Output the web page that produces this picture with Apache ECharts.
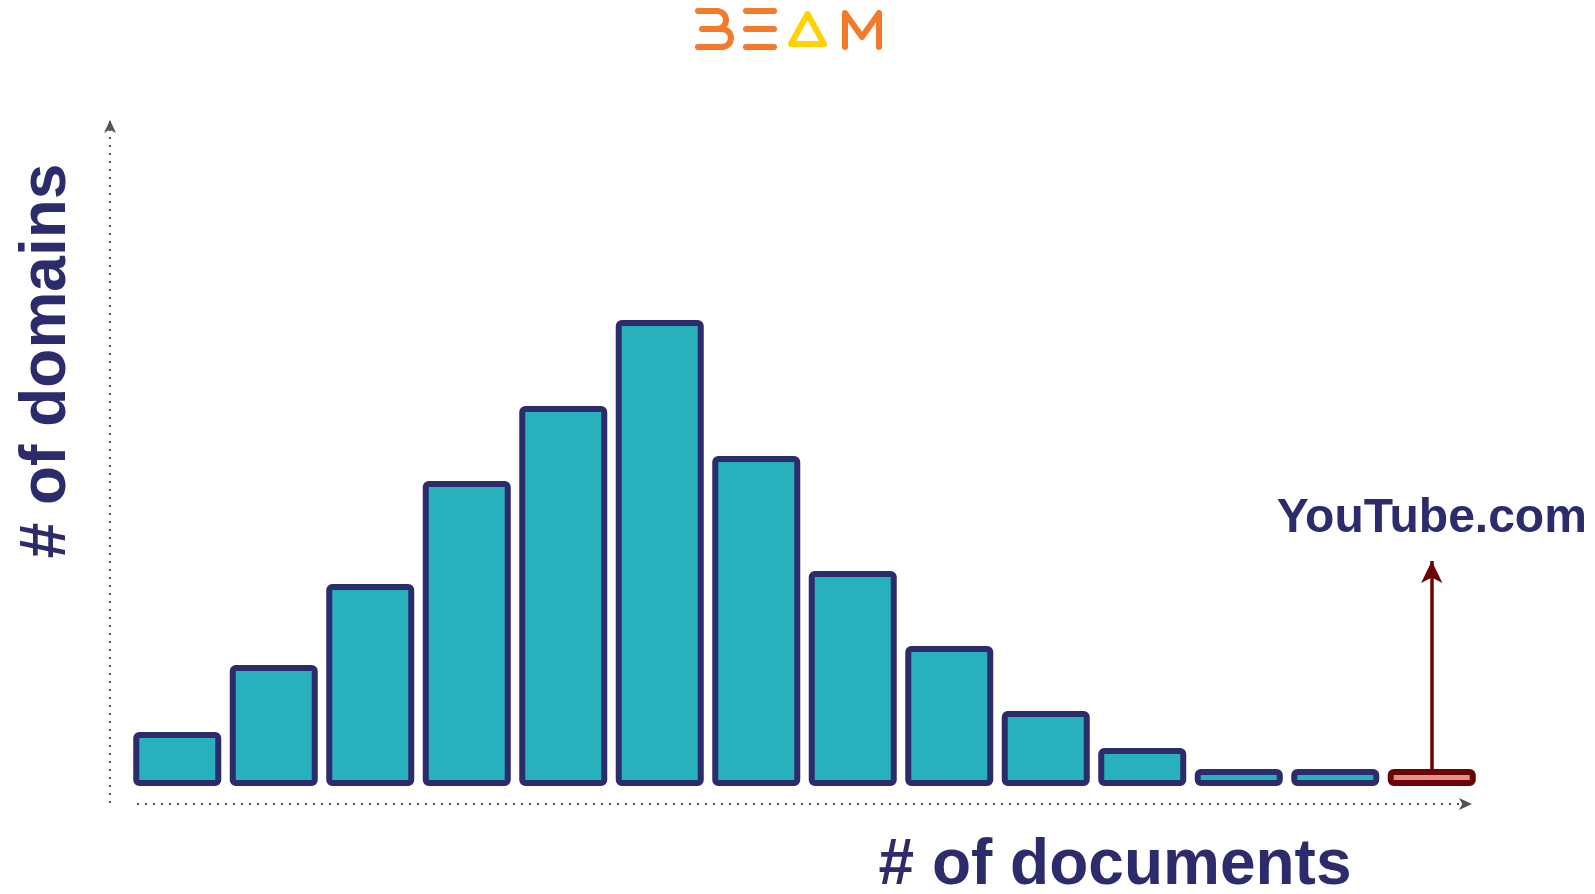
<!DOCTYPE html>
<html>
<head>
<meta charset="utf-8">
<title># of domains by # of documents</title>
<script src="https://cdn.jsdelivr.net/npm/echarts@6/dist/echarts.min.js"></script>
<style>
  html, body { margin: 0; padding: 0; background: #fff; }
  #chart { width: 1595px; height: 894px; }
</style>
</head>
<body>
<div id="chart"></div>
<script>
// histogram bins: # of documents per domain (no tick labels in the original)
const categories = ['1', '2', '3', '4', '5', '6', '7', '8', '9', '10', '11', '12', '13', 'YouTube.com'];
const domainCounts = [54, 121, 202, 305, 380, 466, 330, 215, 140, 75, 38, 17, 17, 17];
const highlightName = 'YouTube.com';
const arrowTopValue = 225;

const NAVY = '#2C2B6B';
const TEAL = '#26B1BD';
const DARK_RED = '#6B0404';
const ORANGE = '#F47A2B';
const YELLOW = '#FFD200';
const FONT = '"Liberation Sans", Arial, sans-serif';

const chart = echarts.init(document.getElementById('chart'));

// bars, last one (YouTube) gets its own colours
const barData = domainCounts.map((v, i) => {
  if (categories[i] !== highlightName) return v;
  return {
    value: v,
    itemStyle: { color: '#E88C8C', borderColor: DARK_RED }
  };
});

const dotted = { color: '#555', width: 2, type: [2, 6], cap: 'butt' };

// logo strokes (BEAM)
const logoStroke = (color) => ({ stroke: color, fill: null, lineWidth: 6, lineCap: 'round', lineJoin: 'round' });
const logo = [
  { type: 'polyline', shape: { points: [[698, 11], [717, 11]] }, style: logoStroke(ORANGE) },
  { type: 'arc', shape: { cx: 717, cy: 20, r: 9, startAngle: -Math.PI / 2, endAngle: Math.PI / 2, clockwise: true }, style: logoStroke(ORANGE) },
  { type: 'polyline', shape: { points: [[702, 29], [722, 29]] }, style: logoStroke(ORANGE) },
  { type: 'arc', shape: { cx: 722, cy: 38, r: 9, startAngle: -Math.PI / 2, endAngle: Math.PI / 2, clockwise: true }, style: logoStroke(ORANGE) },
  { type: 'polyline', shape: { points: [[722, 47], [698, 47]] }, style: logoStroke(ORANGE) },
  { type: 'polyline', shape: { points: [[746, 11], [774, 11]] }, style: logoStroke(ORANGE) },
  { type: 'polyline', shape: { points: [[746, 29], [774, 29]] }, style: logoStroke(ORANGE) },
  { type: 'polyline', shape: { points: [[746, 47], [774, 47]] }, style: logoStroke(ORANGE) },
  { type: 'polygon', shape: { points: [[807.5, 14], [791, 44], [824, 44]] }, style: logoStroke(YELLOW) },
  { type: 'polyline', shape: { points: [[845, 47], [845, 13], [862, 37], [879, 13], [879, 47]] }, style: logoStroke(ORANGE) }
];

const option = {
  animation: false,
  grid: [
    { left: 129, right: 115, top: 286, bottom: 108 },   // bars
    { left: 110, width: 10, top: 120, bottom: 91 },     // y axis line
    { left: 137, right: 123, height: 10, bottom: 90 }   // x axis line
  ],
  xAxis: [
    { gridIndex: 0, type: 'category', data: categories, show: false },
    { gridIndex: 1, type: 'value', show: false },
    {
      gridIndex: 2, type: 'value',
      axisLine: { show: true, onZero: false, lineStyle: dotted, symbol: ['none', 'arrow'], symbolSize: [9, 13] },
      axisTick: { show: false }, axisLabel: { show: false }, splitLine: { show: false }
    }
  ],
  yAxis: [
    { gridIndex: 0, type: 'value', min: 0, max: 500, show: false },
    {
      gridIndex: 1, type: 'value',
      axisLine: { show: true, onZero: false, lineStyle: dotted, symbol: ['none', 'arrow'], symbolSize: [9, 13] },
      axisTick: { show: false }, axisLabel: { show: false }, splitLine: { show: false }
    },
    { gridIndex: 2, type: 'value', show: false }
  ],
  series: [
    {
      type: 'bar',
      xAxisIndex: 0,
      yAxisIndex: 0,
      data: barData,
      barWidth: 88,
      itemStyle: { color: TEAL, borderColor: NAVY, borderWidth: 6, borderRadius: 3 },
      markLine: {
        silent: true,
        symbol: ['none', 'arrow'],
        symbolSize: [16, 22],
        lineStyle: { color: DARK_RED, width: 3.5, type: 'solid' },
        label: {
          show: true,
          position: 'end',
          distance: 18,
          formatter: highlightName,
          color: NAVY,
          fontFamily: FONT,
          fontWeight: 'bold',
          fontSize: 48
        },
        data: [[
          { coord: [highlightName, domainCounts[13]] },
          { coord: [highlightName, arrowTopValue] }
        ]]
      }
    }
  ],
  graphic: logo.concat([
    {
      type: 'text', x: 47, y: 361, rotation: Math.PI / 2,
      style: { text: '# of domains', font: 'bold 64px ' + FONT, fill: NAVY, align: 'center', verticalAlign: 'middle', textAlign: 'center', textVerticalAlign: 'middle' }
    },
    {
      type: 'text', x: 1115, y: 866,
      style: { text: '# of documents', font: 'bold 64px ' + FONT, fill: NAVY, align: 'center', verticalAlign: 'middle', textAlign: 'center', textVerticalAlign: 'middle' }
    }
  ])
};

chart.setOption(option);
window.addEventListener('resize', () => chart.resize());
</script>
</body>
</html>
